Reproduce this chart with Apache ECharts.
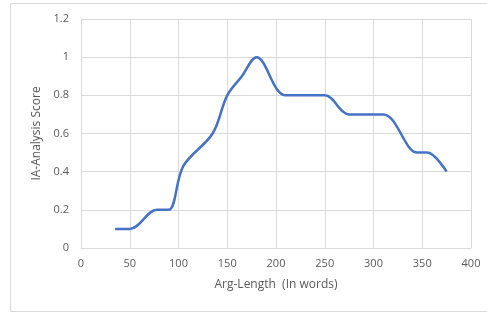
<!DOCTYPE html>
<html>
<head>
<meta charset="utf-8">
<script src="https://cdn.jsdelivr.net/npm/echarts@6/dist/echarts.min.js"></script>
<style>
  html, body { margin: 0; padding: 0; background: #fff; }
  #main { width: 487px; height: 314px; }
</style>
</head>
<body>
<div id="main"></div>
<script>
// 数据
var argLength = [35, 50, 78, 90, 105, 135, 150, 165, 180, 210, 250, 275, 310, 345, 355, 375];
var iaScore = [0.1, 0.1, 0.2, 0.2, 0.43, 0.6, 0.8, 0.9, 1.0, 0.8, 0.8, 0.7, 0.7, 0.5, 0.5, 0.4];

var points = argLength.map(function (x, i) { return [x, iaScore[i]]; });

var myChart = echarts.init(document.getElementById('main'));
var txt = { color: '#595959', fontFamily: 'Open Sans', fontSize: 11 };
var nameTxt = { color: '#595959', fontFamily: 'Open Sans', fontSize: 12 };

myChart.setOption({
    animation: false,
    graphic: [{
        type: 'rect',
        shape: { x: 10.5, y: 3.5, width: 480, height: 308 },
        style: { fill: 'none', stroke: '#d9d9d9', lineWidth: 1 }
    }],
    grid: { left: 81, right: 16, top: 19, bottom: 66 },
    xAxis: {
        type: 'value',
        min: 0, max: 400, interval: 50,
        name: 'Arg-Length  (In words)',
        nameLocation: 'middle',
        nameGap: 31,
        nameTextStyle: nameTxt,
        axisLine: { show: true, lineStyle: { color: '#d9d9d9' } },
        axisTick: { show: false },
        axisLabel: Object.assign({ margin: 10 }, txt),
        splitLine: { show: true, lineStyle: { color: '#d9d9d9' } }
    },
    yAxis: {
        type: 'value',
        min: 0, max: 1.2, interval: 0.2,
        name: 'IA-Analysis Score',
        nameLocation: 'middle',
        nameGap: 37,
        nameTextStyle: nameTxt,
        axisLine: { show: true, lineStyle: { color: '#d9d9d9' } },
        axisTick: { show: false },
        axisLabel: Object.assign({ margin: 12, formatter: function (v) { return String(+v.toFixed(1)); } }, txt),
        splitLine: { show: true, lineStyle: { color: '#d9d9d9' } }
    },
    series: [{
        type: 'line',
        data: points,
        smooth: 0.35,
        showSymbol: false,
        lineStyle: { color: '#4472C4', width: 2.5 }
    }]
});
</script>
</body>
</html>
